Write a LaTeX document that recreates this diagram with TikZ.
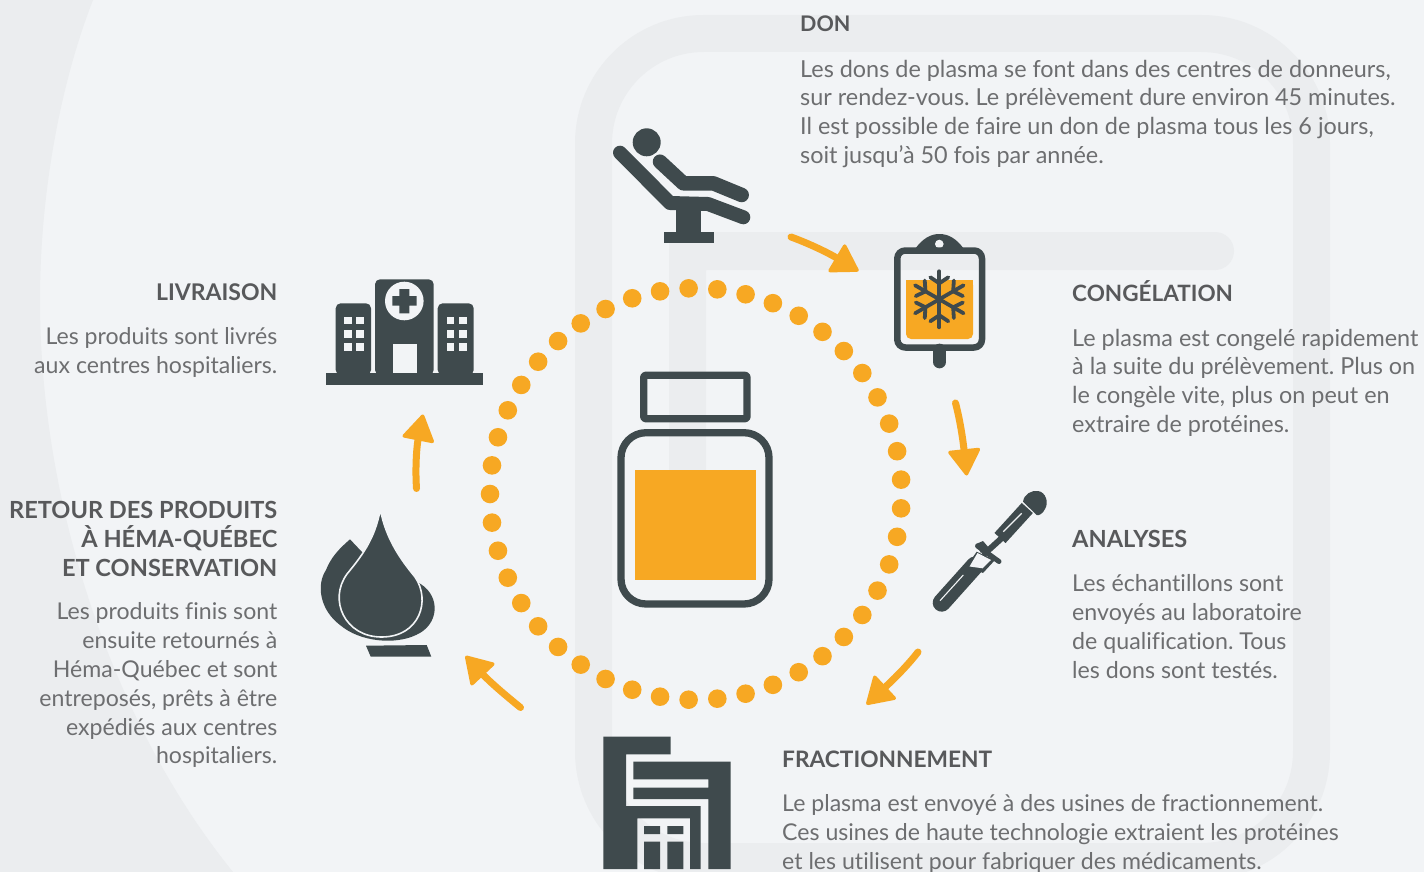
\documentclass[tikz,border=0pt]{standalone}
\usepackage{fontspec}
\setmainfont{Lato}[Ligatures=NoCommon]
\usetikzlibrary{arrows.meta}
\definecolor{bgc}{HTML}{F2F4F6}
\definecolor{shapec}{HTML}{EBEDEF}
\definecolor{darkc}{HTML}{3F4A4D}
\definecolor{orangec}{HTML}{F7A823}
\definecolor{headc}{HTML}{58595B}
\definecolor{bodyc}{HTML}{6D6E70}
\tikzset{
  bodytext/.style={inner sep=0pt,text=bodyc,font=\frenchspacing\fontsize{#1}{28.8}\selectfont},
  bodytext/.default=23.4,
  headtext/.style={inner sep=0pt,text=headc,font=\fontsize{#1}{29}\selectfont\bfseries},
  headtext/.default=22.6,
  flow/.style={draw=orangec,line width=7pt,line cap=round,
    -{Triangle[length=28pt,width=34pt,line width=3.5pt,round,fill=orangec]}},
  darkfill/.style={fill=darkc,draw=none},
  holefill/.style={fill=bgc,draw=none},
  orangefill/.style={fill=orangec,draw=none},
  darkline/.style={draw=darkc,line cap=round,line join=round},
}
\begin{document}
\begin{tikzpicture}[x=1pt,y=-1pt]
\useasboundingbox (0,0) rectangle (1424,872);
\fill[bgc] (0,0) rectangle (1424,872);
% background shapes
\begin{scope}
\clip (0,0) rectangle (1424,872);
\fill[shapec] (0,0) -- (93,0) .. controls (58,90) and (40,200) .. (40,300)
   .. controls (40,500) and (110,720) .. (233,872) -- (0,872) -- cycle;
\draw[shapec,line width=37pt,rounded corners=110pt] (593.5,33.5) rectangle (1311.5,861.5);
\fill[shapec] (669,520) -- (669,232) -- (1215,232) -- (1215,270) -- (706,270) -- (706,520) -- cycle;
\fill[shapec] (1215,251) circle[radius=19pt];
\end{scope}
% dotted ring
\foreach \k in {0,...,44}
  \fill[orangec] ({695.8+205.8*cos(180+8*\k)},{494-205.8*sin(180+8*\k)}) circle[radius=9.3pt];
% bottle
\draw[darkline,line width=7.3pt,rounded corners=2pt] (643.7,375.3) rectangle (747,418.7);
\draw[darkline,line width=7.3pt,rounded corners=25pt] (621,432.7) rectangle (769,604);
\fill[orangefill] (635,470) rectangle (756,580);
% chair
\fill[darkc] (646.7,142.3) circle[radius=14pt];
\draw[darkline,line width=14pt] (620,152.7) -- (670,203) -- (708,204) -- (743.3,217.3);
\draw[darkline,line width=14.5pt] (660,161.7) -- (683.3,183.3) -- (713.3,183.3) -- (741.7,195);
\fill[darkfill] (676,205) rectangle (700.7,233);
\fill[darkfill] (664.3,232.3) rectangle (714,242.7);
% blood bag
\fill[orangefill,rounded corners=5pt] (906,280) -- (906,339) -- (973,339) -- (973,280) -- cycle;
\fill[orangefill] (906,280) rectangle (973,290);
\fill[darkc] (915,249) .. controls (923,238) and (931,234) .. (939.3,234)
   .. controls (948,234) and (956,238) .. (964,249) -- cycle;
\fill[bgc] (939.3,244) circle[radius=4.3pt];
\draw[darkline,line width=6.5pt,rounded corners=8pt] (897.3,250.5) rectangle (982,347.5);
\draw[darkline,line width=12.7pt] (939.6,350) -- (939.6,362);
\begin{scope}[shift={(939.3,299.3)}]
\foreach \a in {0,60,...,300}{
  \begin{scope}[rotate=\a]
    \draw[darkline,line width=3.8pt] (0,0) -- (0,-28);
    \draw[darkline,line width=3.8pt] (-9,-22) -- (0,-16) -- (9,-22);
  \end{scope}}
\end{scope}
% pipette
\draw[darkline,line width=18pt] (941.7,602.7) -- (975,565.5);
\fill[darkc] (976.7,551.7) -- (966.7,566) -- (983,573) -- (995,560) -- cycle;
\fill[bgc] (969.5,566.5) -- (982.5,568.3) -- (991,560) -- (977.5,553) -- cycle;
\draw[darkline,line width=5pt] (977.5,546) -- (999,561.5);
\fill[darkc] (976,544) -- (983,541) -- (989,548) -- (981,553) -- cycle;
\draw[darkline,line width=6pt] (985,553.3) -- (1003.3,536.7);
\draw[darkline,line width=15pt,line cap=butt] (1000,538) -- (1027.3,508);
\fill[darkc] (1023,501.7) .. controls (1024,494) and (1032,490) .. (1038,491)
   .. controls (1046,492) and (1049,503) .. (1045,509)
   .. controls (1043,514) and (1038,516) .. (1036.7,515) -- cycle;
\draw[bgc,line width=1.2pt] (1003.3,531.7) -- (1021.7,513.3);
\draw[bgc,line width=1.1pt] (940,600.7) -- (963.3,575);
% factory
\fill[darkfill] (603.3,736.7) -- (670.7,736.7) -- (670.7,754.3) -- (626,754.3) -- (626,806)
  -- (700.7,806) -- (700.7,869) -- (690,869) -- (690,818.3) -- (637.3,818.3) -- (637.3,869) -- (603.3,869) -- cycle;
\fill[darkfill] (633.3,761.7) -- (730.7,761.7) -- (730.7,869) -- (708.3,869) -- (708.3,799) -- (633.3,799)
  -- (633.3,787.7) -- (708.3,787.7) -- (708.3,779.3) -- (633.3,779.3) -- cycle;
\fill[darkfill] (644,826) rectangle (660,834) (667.3,826) rectangle (683.3,834)
  (644,841.7) rectangle (660,869) (667.3,841.7) rectangle (683.3,869);
% drop
\fill[darkc] (350,539.3) -- (361.7,551.7) -- (420.7,584) .. controls (441,597) and (439,625) .. (416,635)
  .. controls (395,645) and (360,642) .. (340,625) .. controls (320,610) and (316,585) .. (326,570)
  .. controls (331,557) and (340,548) .. (350,539.3) -- cycle;
\fill[darkc,draw=bgc,line width=1.6pt] (380.3,509) .. controls (386,540) and (402,561) .. (415,577)
  .. controls (431,600) and (420,637) .. (381.5,637) .. controls (345,637) and (328,600) .. (347,574)
  .. controls (360,558) and (375,540) .. (380.3,509) -- cycle;
\fill[darkfill] (366,645.7) -- (426.7,645) -- (431.3,656.7) -- (370.7,656.7) -- cycle;
% hospital
\fill[darkfill] (326,373.3) rectangle (482.7,385);
\fill[darkfill,rounded corners=5pt] (375,375) -- (375,279.3) -- (433.7,279.3) -- (433.7,375) -- cycle;
\fill[darkfill,rounded corners=5pt] (335.7,375) -- (335.7,303.3) -- (371,303.3) -- (371,375) -- cycle;
\fill[darkfill,rounded corners=5pt] (437.7,375) -- (437.7,303.3) -- (473.7,303.3) -- (473.7,375) -- cycle;
\fill[bgc] (404.3,301) circle[radius=19.3pt];
\fill[darkfill] (399.3,289) rectangle (409.3,313.3) (392.3,296) rectangle (416.7,305.7);
\fill[holefill] (393.3,344.3) rectangle (416.7,373.3);
\foreach \y/\z in {316.7/324.3,330/337.7,343.3/351}
  \foreach \xa/\xb in {344/352.3,356.3/364.3,446.7/454.3,459/467}
    \fill[holefill] (\xa,\y) rectangle (\xb,\z);
% arrows
\coordinate (a1s) at (791,237); \coordinate (a1e) at (858.5,271);
\coordinate (a2s) at (955.5,403); \coordinate (a2e) at (966.7,475.5);
\coordinate (a3s) at (918,652); \coordinate (a3e) at (866.5,704.5);
\coordinate (a4s) at (520.5,707.5); \coordinate (a4e) at (465.5,656);
\coordinate (a5s) at (416.5,488.5); \coordinate (a5e) at (423,414.5);
\draw[flow] (a1s) .. controls (805,242) and (825,251) .. (a1e);
\draw[flow] (a2s) .. controls (960,420) and (963,440) .. (a2e);
\draw[flow] (a3s) .. controls (908,665) and (895,678) .. (a3e);
\draw[flow] (a4s) .. controls (505,695) and (490,682) .. (a4e);
\draw[flow] (a5s) .. controls (415,465) and (417,445) .. (a5e);
% texts
\node[headtext=21.5,anchor=base west] (donh) at (800,32) {DON};
\node[bodytext,anchor=north west,align=left] (donb) at (800,59.7) {Les dons de plasma se font dans des centres de donneurs,\\sur rendez-vous. Le prélèvement dure environ 45 minutes.\\Il est possible de faire un don de plasma tous les 6 jours,\\soit jusqu’à 50 fois par année.};
\node[headtext=22.5,anchor=base west] (congh) at (1072,301) {CONGÉLATION};
\node[bodytext,anchor=north west,align=left] (congb) at (1072,328.7) {Le plasma est congelé rapidement\\à la suite du prélèvement. Plus on\\le congèle vite, plus on peut en\\extraire de protéines.};
\node[headtext=23.6,anchor=base west] (anah) at (1072,547) {ANALYSES};
\node[bodytext=23.2,anchor=north west,align=left] (anab) at (1072,574.7) {Les échantillons sont\\envoyés au laboratoire\\de qualification. Tous\\les dons sont testés.};
\node[headtext=22.7,anchor=base west] (frah) at (782,767) {FRACTIONNEMENT};
\node[bodytext=23.1,anchor=north west,align=left] (frab) at (782,794.5) {Le plasma est envoyé à des usines de fractionnement.\\Ces usines de haute technologie extraient les protéines\\et les utilisent pour fabriquer des médicaments.};
\node[headtext=23,anchor=base east] (livh) at (277.5,300) {LIVRAISON};
\node[bodytext=23.1,anchor=north east,align=right] (livb) at (277.5,327.7) {Les produits sont livrés\\aux centres hospitaliers.};
\node[headtext=23.6,anchor=north east,align=right] (reth) at (277.5,501) {RETOUR DES PRODUITS\\À HÉMA-QUÉBEC\\ET CONSERVATION};
\node[bodytext=23.1,anchor=north east,align=right] (retb) at (277.5,602.7) {Les produits finis sont\\ensuite retournés à\\Héma-Québec et sont\\entreposés, prêts à être\\expédiés aux centres\\hospitaliers.};
\end{tikzpicture}
\end{document}
